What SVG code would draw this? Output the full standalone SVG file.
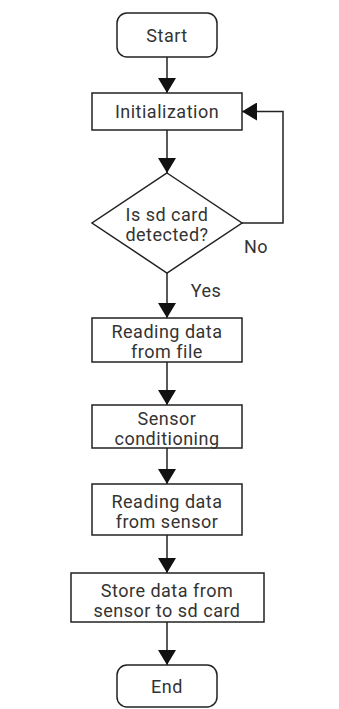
<svg xmlns="http://www.w3.org/2000/svg" width="339" height="709" viewBox="0 0 339 709">
<style>
.n{fill:#fff;stroke:#222;stroke-width:1.5}
.t{font-family:Roboto,"Liberation Sans",sans-serif;font-size:18px;letter-spacing:0.5px;fill:#333;text-anchor:middle}
.c{fill:none;stroke:#222;stroke-width:1.5}
</style>
<defs>
<marker id="ah" markerUnits="userSpaceOnUse" markerWidth="16" markerHeight="18" refX="15" refY="9" orient="auto">
<path d="M0,0 L15,9 L0,18 Z" fill="#111"/>
</marker>
</defs>
<rect width="339" height="709" fill="#fff"/>
<g id="connectors">
<path class="c" d="M167,57 V93" marker-end="url(#ah)"/>
<path class="c" d="M167,130 V173" marker-end="url(#ah)"/>
<path class="c" d="M167,273 V318" marker-end="url(#ah)"/>
<path class="c" d="M167,362 V405" marker-end="url(#ah)"/>
<path class="c" d="M167,448 V484" marker-end="url(#ah)"/>
<path class="c" d="M167,535 V573" marker-end="url(#ah)"/>
<path class="c" d="M167,622 V665" marker-end="url(#ah)"/>
<path class="c" d="M242,223 H283 V111.5 H242" marker-end="url(#ah)"/>
<text class="t" x="256" y="253">No</text>
<text class="t" x="206" y="297">Yes</text>
</g>
<g id="start">
<rect class="n" x="117" y="13" width="100" height="44" rx="10"/>
<text class="t" x="167" y="42">Start</text>
</g>
<g id="init">
<rect class="n" x="92" y="93" width="150" height="37"/>
<text class="t" x="167" y="118">Initialization</text>
</g>
<g id="decision">
<polygon class="n" points="167,173 242,223 167,273 92,223"/>
<text class="t" x="167" y="221">Is sd card</text>
<text class="t" x="167" y="241">detected?</text>
</g>
<g id="readfile">
<rect class="n" x="92" y="318" width="150" height="44"/>
<text class="t" x="167" y="338">Reading data</text>
<text class="t" x="167" y="358">from file</text>
</g>
<g id="sensor">
<rect class="n" x="92" y="405" width="150" height="43"/>
<text class="t" x="167" y="425">Sensor</text>
<text class="t" x="167" y="445">conditioning</text>
</g>
<g id="readsensor">
<rect class="n" x="92" y="484" width="150" height="51"/>
<text class="t" x="167" y="508">Reading data</text>
<text class="t" x="167" y="528">from sensor</text>
</g>
<g id="store">
<rect class="n" x="71" y="573" width="193" height="49"/>
<text class="t" x="167" y="597">Store data from</text>
<text class="t" x="167" y="617">sensor to sd card</text>
</g>
<g id="end">
<rect class="n" x="117" y="665" width="100" height="42" rx="10"/>
<text class="t" x="167" y="693">End</text>
</g>
</svg>
